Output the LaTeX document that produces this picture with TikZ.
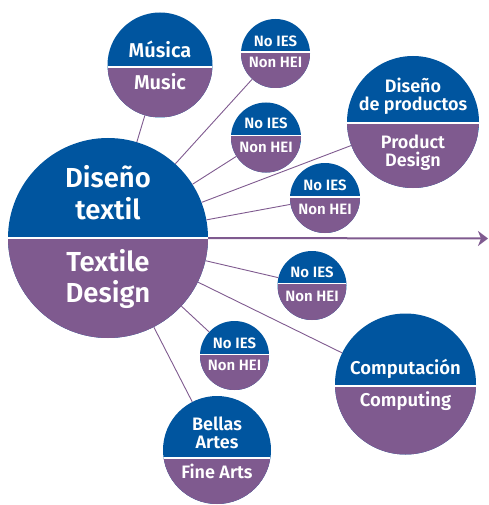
\documentclass[tikz,border=0pt]{standalone}
\usepackage{fontspec}
\setmainfont{Fira Sans}[BoldFont={Fira Sans SemiBold}]
\usetikzlibrary{positioning,arrows.meta}
\definecolor{iesblue}{HTML}{00559F}
\definecolor{iespurple}{HTML}{7F5A8F}
\tikzset{
	>={Stealth[length=10pt,width=15pt,inset=3pt]},
	split/.store in=\splitshift, split=0pt,
	bubble/.style={circle, fill=iesblue, inner sep=0pt, minimum size=#1,
		path picture={
			\fill[iespurple] ([yshift=-\splitshift]path picture bounding box.west) rectangle (path picture bounding box.south east);
			\draw[white, line width=1.3pt] ([yshift=-\splitshift]path picture bounding box.west) -- ([yshift=-\splitshift]path picture bounding box.east);
		}},
	txt/.style n args={2}{text=white, font=\bfseries\fontsize{#1}{#2}\selectfont, align=center, inner sep=0pt, anchor=base},
	link/.style={draw=iespurple, line width=0.9pt},
	flow/.style={draw=iespurple, line width=2pt}
}
\begin{document}
\begin{tikzpicture}[x=1pt,y=-1pt]
	\useasboundingbox (0,0) rectangle (488,505);
	% bubbles
	\node[bubble=200] (textil) at (108,238) {};
	\node[bubble=105, split=2pt] (musica) at (160,65) {};
	\node[bubble=69, split=-1.5pt] (noies1) at (275.5,53.5) {};
	\node[bubble=70, split=-2pt] (noies2) at (266,137.5) {};
	\node[bubble=132, split=1pt] (productos) at (413,122) {};
	\node[bubble=70, split=-1pt] (noies3) at (325,198) {};
	\node[bubble=69, split=-2pt] (noies4) at (312,285.5) {};
	\node[bubble=141, split=2pt] (computacion) at (405.5,384) {};
	\node[bubble=69, split=-1pt] (noies5) at (234.5,355.5) {};
	\node[bubble=108, split=8pt] (bellas) at (217,450) {};
	% connectors
	\foreach \target in {musica,noies1,noies2,productos,noies3,noies4,computacion,noies5,bellas}
		\draw[link] (textil) -- (\target);
	\coordinate (tip) at (488,238.5);
	\draw[flow,->] (textil.east) -- (tip);
	% texts (base = last line)
	\node[txt={27.5}{32}] (textil-es) at (108,219) {Diseño\\textil};
	\node[txt={27.5}{31}] (textil-en) at (108,302) {Textile\\Design};
	\node[txt={20}{24}] (musica-es) at (160,57.3) {Música};
	\node[txt={20}{24}] (musica-en) at (160,90) {Music};
	\node[txt={15}{18}] (noies1-es) at (275.5,46.7) {No IES};
	\node[txt={15}{18}] (noies1-en) at (275.5,68) {Non HEI};
	\node[txt={15}{18}] (noies2-es) at (266,129) {No IES};
	\node[txt={15}{18}] (noies2-en) at (266,152.7) {Non HEI};
	\node[txt={18}{18}] (productos-es) at (413,111) {Diseño\\de productos};
	\node[txt={18}{17.7}] (productos-en) at (413,166.7) {Product\\Design};
	\node[txt={15}{18}] (noies3-es) at (325,190) {No IES};
	\node[txt={15}{18}] (noies3-en) at (325,214) {Non HEI};
	\node[txt={15}{18}] (noies4-es) at (312,277.3) {No IES};
	\node[txt={15}{18}] (noies4-en) at (312,301.7) {Non HEI};
	\node[txt={18.5}{22}] (computacion-es) at (405.5,374) {Computación};
	\node[txt={18.5}{22}] (computacion-en) at (405.5,406.7) {Computing};
	\node[txt={15}{18}] (noies5-es) at (234.5,348.3) {No IES};
	\node[txt={15}{18}] (noies5-en) at (234.5,370) {Non HEI};
	\node[txt={18}{18.3}] (bellas-es) at (217,448.3) {Bellas\\Artes};
	\node[txt={18}{18}] (bellas-en) at (217,478.3) {Fine Arts};
\end{tikzpicture}
\end{document}
